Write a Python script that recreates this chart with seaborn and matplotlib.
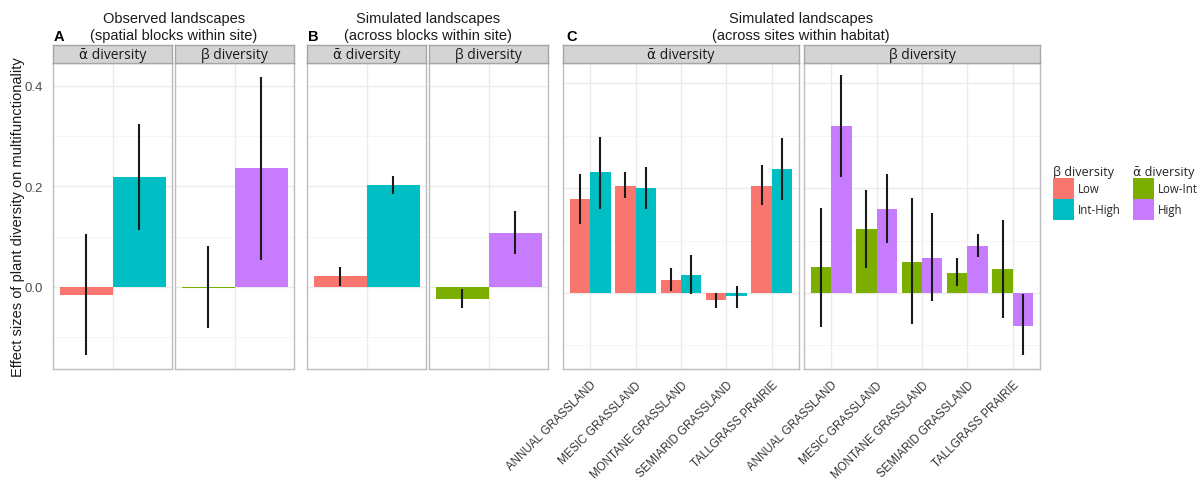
import matplotlib
matplotlib.use("Agg")
import matplotlib.pyplot as plt
from matplotlib.patches import Patch
from matplotlib.ticker import FixedLocator, NullFormatter
import pandas as pd
import seaborn as sns

# ---------------- data ----------------
beta_levels = ["Low", "Int-High"]          # fill levels used in the alpha-diversity panels
alpha_levels = ["Low-Int", "High"]         # fill levels used in the beta-diversity panels
habitats = ["ANNUAL GRASSLAND", "MESIC GRASSLAND", "MONTANE GRASSLAND",
            "SEMIARID GRASSLAND", "TALLGRASS PRAIRIE"]

# A: observed landscapes (spatial blocks within site)
obs_alpha_effect = [-0.015, 0.218]
obs_alpha_lo = [-0.136, 0.113]
obs_alpha_hi = [0.105, 0.324]
obs_beta_effect = [-0.002, 0.236]
obs_beta_lo = [-0.082, 0.054]
obs_beta_hi = [0.081, 0.418]

# B: simulated landscapes (across blocks within site)
blk_alpha_effect = [0.0225, 0.203]
blk_alpha_lo = [0.001, 0.185]
blk_alpha_hi = [0.040, 0.221]
blk_beta_effect = [-0.024, 0.107]
blk_beta_lo = [-0.042, 0.066]
blk_beta_hi = [-0.005, 0.151]

# C: simulated landscapes (across sites within habitat), one value per habitat
site_alpha_low = [0.179, 0.205, 0.025, -0.013, 0.205]
site_alpha_low_lo = [0.131, 0.181, 0.004, -0.029, 0.168]
site_alpha_low_hi = [0.227, 0.231, 0.047, 0.001, 0.244]
site_alpha_inthigh = [0.231, 0.200, 0.035, -0.006, 0.237]
site_alpha_inthigh_lo = [0.160, 0.160, -0.002, -0.028, 0.178]
site_alpha_inthigh_hi = [0.298, 0.240, 0.073, 0.014, 0.296]

site_beta_lowint = [0.049, 0.122, 0.060, 0.038, 0.045]
site_beta_lowint_lo = [-0.065, 0.047, -0.060, 0.014, -0.048]
site_beta_lowint_hi = [0.163, 0.197, 0.181, 0.067, 0.139]
site_beta_high = [0.319, 0.160, 0.067, 0.090, -0.062]
site_beta_high_lo = [0.221, 0.096, -0.015, 0.069, -0.119]
site_beta_high_hi = [0.417, 0.228, 0.152, 0.112, -0.002]

fill_colors = {"Low": "#F8766D", "Int-High": "#00BFC4",
               "Low-Int": "#7CAE00", "High": "#C77CFF"}

# ---------------- style ----------------
sns.set_style("white")
plt.rcParams["font.family"] = ["Liberation Sans", "DejaVu Sans"]
STRIP_FONT = ["Open Sans", "DejaVu Sans"]

W, H = 1202, 485
fig = plt.figure(figsize=(W / 100, H / 100), dpi=100)


def px_axes(x0, y0, x1, y1):
    """Axes placed by pixel box (top-left origin)."""
    return fig.add_axes([x0 / W, 1 - y1 / H, (x1 - x0) / W, (y1 - y0) / H])


def make_frame(x, levels, effects):
    rows = []
    for lev, vals in zip(levels, effects):
        for xi, v in zip(x, vals):
            rows.append({"x": xi, "level": lev, "effect": v})
    return pd.DataFrame(rows)


def draw_panel(box, strip_label, x, levels, effects, los, his, xlim, ylim,
               ytick_labels=False, xtick_labels=False):
    x0, y0, x1, y1 = box
    ax = px_axes(x0, y0, x1, y1)
    df = make_frame(x, levels, effects)
    sns.barplot(data=df, x="x", y="effect", hue="level", order=list(dict.fromkeys(x)),
                hue_order=levels, palette=[fill_colors[l] for l in levels],
                width=0.9, saturation=1, errorbar=None, legend=False,
                linewidth=0, ax=ax)
    # interval lines centred on each bar
    for cont, lo, hi in zip(ax.containers, los, his):
        for bar, l, h in zip(cont, lo, hi):
            xc = bar.get_x() + bar.get_width() / 2
            ax.vlines(xc, l, h, color="#1A1A1A", lw=1.5, zorder=4)

    ax.set_xlim(*xlim)
    ax.set_ylim(*ylim)
    ax.set_axisbelow(True)
    ax.yaxis.set_major_locator(FixedLocator([0.0, 0.2, 0.4]))
    ax.yaxis.set_minor_locator(FixedLocator([-0.1, 0.1, 0.3]))
    ax.yaxis.set_minor_formatter(NullFormatter())
    ax.grid(True, which="major", color="#EBEBEB", lw=1.0)
    ax.grid(True, which="minor", axis="y", color="#F3F3F3", lw=0.6)
    ax.set_xlabel("")
    ax.set_ylabel("")
    for sp in ax.spines.values():
        sp.set_color("#BDBDBD")
        sp.set_linewidth(1.0)
    ax.tick_params(axis="both", which="both", colors="#555555", labelcolor="#4D4D4D",
                   length=3.5, width=1.0, labelsize=9.5)
    ax.tick_params(axis="y", which="minor", length=0)
    if ytick_labels:
        ax.set_yticklabels(["0.0", "0.2", "0.4"])
    else:
        ax.tick_params(axis="y", which="major", length=0, labelleft=False)
    if xtick_labels:
        ax.set_xticks(range(len(habitats)))
        ax.set_xticklabels(habitats, rotation=45, ha="right", rotation_mode="anchor",
                           fontsize=8.3, color="#333333")
    else:
        ax.tick_params(axis="x", length=0, labelbottom=False)

    # facet strip
    sax = px_axes(x0, 46, x1, 64)
    sax.set_facecolor("#D4D4D4")
    sax.set_xticks([])
    sax.set_yticks([])
    for sp in sax.spines.values():
        sp.set_color("#A6A6A6")
        sp.set_linewidth(1.0)
    sax.text(0.5, 0.48, strip_label, ha="center", va="center", fontsize=10,
             family=STRIP_FONT, color="#1A1A1A", transform=sax.transAxes)
    return ax


ylim_ab = (-0.163, 0.445)
ylim_c = (-0.145, 0.439)
xlim_single = (-0.507, 0.505)

# Panel A
draw_panel((53, 64, 172, 370), "ᾱ diversity", ["all"], beta_levels,
           [[obs_alpha_effect[0]], [obs_alpha_effect[1]]],
           [[obs_alpha_lo[0]], [obs_alpha_lo[1]]],
           [[obs_alpha_hi[0]], [obs_alpha_hi[1]]],
           xlim_single, ylim_ab, ytick_labels=True)
draw_panel((175, 64, 294, 370), "β diversity", ["all"], alpha_levels,
           [[obs_beta_effect[0]], [obs_beta_effect[1]]],
           [[obs_beta_lo[0]], [obs_beta_lo[1]]],
           [[obs_beta_hi[0]], [obs_beta_hi[1]]],
           xlim_single, ylim_ab)

# Panel B
draw_panel((307, 64, 426, 370), "ᾱ diversity", ["all"], beta_levels,
           [[blk_alpha_effect[0]], [blk_alpha_effect[1]]],
           [[blk_alpha_lo[0]], [blk_alpha_lo[1]]],
           [[blk_alpha_hi[0]], [blk_alpha_hi[1]]],
           xlim_single, ylim_ab)
draw_panel((429, 64, 548, 370), "β diversity", ["all"], alpha_levels,
           [[blk_beta_effect[0]], [blk_beta_effect[1]]],
           [[blk_beta_lo[0]], [blk_beta_lo[1]]],
           [[blk_beta_hi[0]], [blk_beta_hi[1]]],
           xlim_single, ylim_ab)

# Panel C
draw_panel((563, 64, 799, 370), "ᾱ diversity", habitats, beta_levels,
           [site_alpha_low, site_alpha_inthigh],
           [site_alpha_low_lo, site_alpha_inthigh_lo],
           [site_alpha_low_hi, site_alpha_inthigh_hi],
           (-0.6, 4.6), ylim_c, xtick_labels=True)
draw_panel((804, 64, 1040, 370), "β diversity", habitats, alpha_levels,
           [site_beta_lowint, site_beta_high],
           [site_beta_lowint_lo, site_beta_high_lo],
           [site_beta_lowint_hi, site_beta_high_hi],
           (-0.6, 4.6), ylim_c, xtick_labels=True)

# Titles and panel letters
title_kw = dict(ha="center", va="center", fontsize=10.5, color="#1A1A1A")
fig.text(174 / W, 1 - 19 / H, "Observed landscapes", **title_kw)
fig.text(174 / W, 1 - 36 / H, "(spatial blocks within site)", **title_kw)
fig.text(428 / W, 1 - 19 / H, "Simulated landscapes", **title_kw)
fig.text(428 / W, 1 - 36 / H, "(across blocks within site)", **title_kw)
fig.text(801 / W, 1 - 19 / H, "Simulated landscapes", **title_kw)
fig.text(801 / W, 1 - 36 / H, "(across sites within habitat)", **title_kw)
for lx, lab in [(54, "A"), (308, "B"), (566, "C")]:
    fig.text(lx / W, 1 - 44 / H, lab, ha="left", va="bottom", fontsize=10.5,
             fontweight="bold", color="black")

fig.text(18 / W, 1 - 217 / H, "Effect sizes of plant diversity on multifunctionality",
         rotation=90, ha="center", va="center", fontsize=10.5, color="#1A1A1A")

# Legends
LEG_SIZE = 8.3
def add_legend(x, y, title, levels):
    handles = [Patch(facecolor=fill_colors[l], edgecolor="none", label=l) for l in levels]
    leg = fig.legend(handles=handles, title=title, loc="upper left",
                     bbox_to_anchor=(x / W, 1 - y / H), frameon=False,
                     prop={"family": STRIP_FONT, "size": LEG_SIZE},
                     title_fontproperties={"family": STRIP_FONT, "size": 9.1},
                     alignment="left", handlelength=1.82, handleheight=2.42,
                     handletextpad=0.3, labelspacing=0.0, borderpad=0.0,
                     borderaxespad=0.0)
    return leg

add_legend(1053, 166, "β diversity", beta_levels)
add_legend(1133, 166, "ᾱ diversity", alpha_levels)

fig.savefig("out.png", dpi=100)
